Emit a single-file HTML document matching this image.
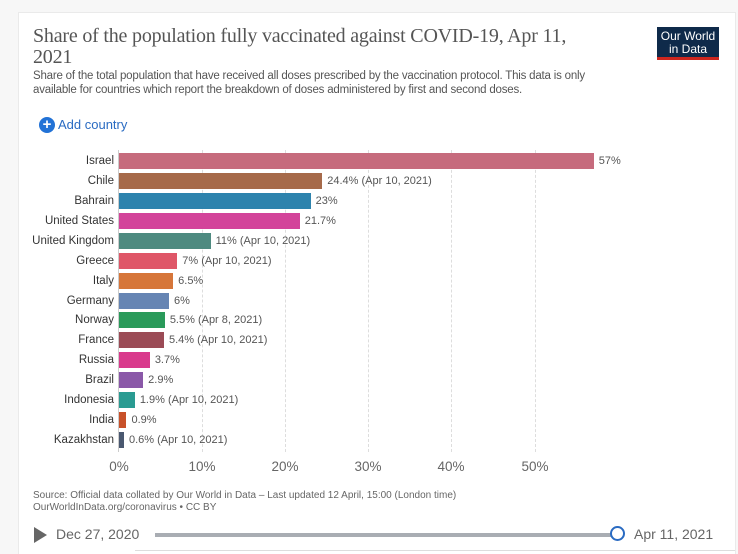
<!DOCTYPE html>
<html><head><meta charset="utf-8"><style>
html,body{margin:0;width:738px;height:554px;overflow:hidden}
body{background:#f7f7f7;position:relative;font-family:"Liberation Sans",sans-serif}
#card{position:absolute;left:18px;top:12px;width:718px;height:550px;background:#fff;border:1px solid #eaeaea;box-sizing:border-box}
.a{position:absolute;white-space:nowrap}
.lbl{position:absolute;right:624px;font-size:11.5px;color:#333;text-align:right}
.bar{position:absolute;left:119px;height:16px}
.val{position:absolute;font-size:11px;color:#555}
.grid{position:absolute;top:150px;height:302px;border-left:1px dashed #ddd}
.tick{position:absolute;top:459px;font-size:13.5px;color:#666;transform:translateX(-50%)}
</style></head><body>
<div id="card"></div>
<div class="a" style="left:33px;top:26px;font-family:'Liberation Serif',serif;font-size:20px;color:#555;line-height:21px;letter-spacing:-0.2px">Share of the population fully vaccinated against COVID-19, Apr 11,<br>2021</div>
<div class="a" style="left:657px;top:27px;width:62px;height:33px;background:#0f2a4a;border-bottom:3px solid #ce261e;color:#fff;font-size:12px;line-height:13px;text-align:center;padding-top:3px;box-sizing:border-box">Our World<br>in Data</div>
<div class="a" style="left:33px;top:69px;font-size:11.5px;color:#555;line-height:14px;letter-spacing:-0.2px">Share of the total population that have received all doses prescribed by the vaccination protocol. This data is only<br>available for countries which report the breakdown of doses administered by first and second doses.</div>
<div class="a" style="left:39px;top:117px;width:16px;height:16px;border-radius:50%;background:#2272d6;color:#fff;font-size:15px;line-height:16px;text-align:center;font-weight:bold">+</div>
<div class="a" style="left:58px;top:117px;font-size:13px;color:#2a6bc2">Add country</div>
<div class="grid" style="left:202px"></div><div class="grid" style="left:285px"></div><div class="grid" style="left:368px"></div><div class="grid" style="left:451px"></div><div class="grid" style="left:535px"></div>
<div class="a" style="left:118px;top:150px;height:302px;border-left:1px solid #ccc"></div>
<div id="rows"></div>
<div class="tick" style="left:119px">0%</div><div class="tick" style="left:202px">10%</div><div class="tick" style="left:285px">20%</div><div class="tick" style="left:368px">30%</div><div class="tick" style="left:451px">40%</div><div class="tick" style="left:535px">50%</div>
<div class="a" style="left:33px;top:490px;font-size:10px;color:#666;line-height:12px">Source: Official data collated by Our World in Data – Last updated 12 April, 15:00 (London time)<br>OurWorldInData.org/coronavirus • CC BY</div>
<div class="a" style="left:34px;top:527px;width:0;height:0;border-left:13px solid #666;border-top:8px solid transparent;border-bottom:8px solid transparent"></div>
<div class="a" style="left:56px;top:526px;font-size:14px;color:#666">Dec 27, 2020</div>
<div class="a" style="left:155px;top:533px;width:460px;height:4px;background:#a9adb3"></div>
<div class="a" style="left:610px;top:526px;width:15px;height:15px;border-radius:50%;border:2px solid #2a6bc2;background:#fff;box-sizing:border-box"></div>
<div class="a" style="left:634px;top:526px;font-size:14px;color:#666">Apr 11, 2021</div>
<div class="a" style="left:135px;top:550px;width:600px;border-top:1px solid #ddd"></div>
<script>
var d=[["Israel",57,"57%","#c66b7d"],["Chile",24.4,"24.4% (Apr 10, 2021)","#a66a4a"],["Bahrain",23,"23%","#2e83ad"],["United States",21.7,"21.7%","#d3449a"],["United Kingdom",11,"11% (Apr 10, 2021)","#4e8a80"],["Greece",7,"7% (Apr 10, 2021)","#df5768"],["Italy",6.5,"6.5%","#d6763a"],["Germany",6,"6%","#6685b3"],["Norway",5.5,"5.5% (Apr 8, 2021)","#2a9a5a"],["France",5.4,"5.4% (Apr 10, 2021)","#9b4b56"],["Russia",3.7,"3.7%","#d93a8c"],["Brazil",2.9,"2.9%","#8a58a8"],["Indonesia",1.9,"1.9% (Apr 10, 2021)","#2a9b92"],["India",0.9,"0.9%","#c8512a"],["Kazakhstan",0.6,"0.6% (Apr 10, 2021)","#4a5870"]];
var h="";d.forEach(function(r,i){var c=161+i*19.93;var w=r[1]*8.33;
h+='<div class="lbl" style="top:'+(c-6)+'px">'+r[0]+'</div><div class="bar" style="top:'+(c-8)+'px;width:'+w+'px;background:'+r[3]+'"></div><div class="val" style="top:'+(c-6)+'px;left:'+(119+w+5)+'px">'+r[2]+'</div>';});
document.getElementById("rows").innerHTML=h;
</script>
</body></html>
